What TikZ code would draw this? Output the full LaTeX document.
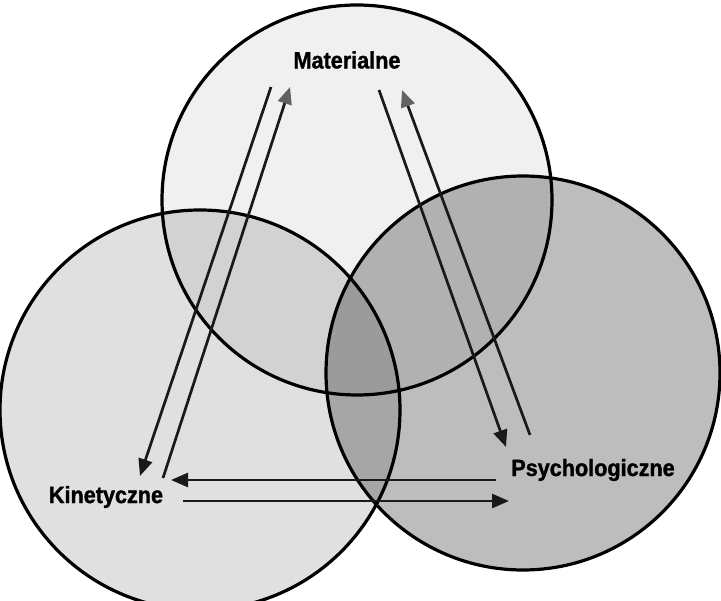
\documentclass[tikz,border=0pt]{standalone}
\usepackage{fontspec}
\setmainfont{Liberation Sans}
\newfontfamily\labelfont[FakeBold=1.4,FakeStretch=0.92]{Liberation Sans Bold}
\usetikzlibrary{arrows.meta}

\begin{document}
\begin{tikzpicture}[x=1pt,y=-1pt,
  ring/.style={draw=black,line width=3.2pt},
  label/.style={font=\labelfont\fontsize{23.5}{27}\selectfont,inner sep=0pt},
  flow/.style={line width=2.7pt,draw=black!90,
    -{Triangle[length=17pt,width=14pt]}},
  backflow/.style={line width=2.7pt,draw=black!90,
    -{Triangle[length=17pt,width=14pt,color=black!62]}}]
  \useasboundingbox (0,0) rectangle (721,601);
  \clip (0,0) rectangle (721,601);

  % shaded sets, multiplied where they overlap
  \begin{scope}[blend group=multiply]
    \fill[black!6]  (357,200) circle[radius=195];
    \fill[black!12] (200,410) circle[radius=200];
    \fill[black!26] (523,373) circle[radius=197];
  \end{scope}

  % outlines
  \draw[ring] (357,200) circle[radius=195];
  \draw[ring] (200,410) circle[radius=200];
  \draw[ring] (523,373) circle[radius=197];

  % set names
  \node[label] (mat) at (347,60) {Materialne};
  \node[label] (kin) at (106,497) {Kinetyczne};
  \node[label] (psy) at (593,470) {Psychologiczne};

  % arrow end points around the names
  \coordinate (matL1) at (271,87);
  \coordinate (matL2) at (290,87);
  \coordinate (matR1) at (379,90);
  \coordinate (matR2) at (402,90);
  \coordinate (kinT1) at (140,476);
  \coordinate (kinT2) at (163,478);
  \coordinate (kinR1) at (171,480);
  \coordinate (kinR2) at (183,501);
  \coordinate (psyT1) at (506,447);
  \coordinate (psyT2) at (530,435);
  \coordinate (psyL1) at (496,480);
  \coordinate (psyL2) at (509,501);

  % flows between the sets
  \draw[flow] (matL1) -- (kinT1);
  \draw[backflow] (kinT2) -- (matL2);
  \draw[flow] (matR1) -- (psyT1);
  \draw[backflow] (psyT2) -- (matR2);
  \draw[flow] (psyL1) -- (kinR1);
  \draw[flow] (kinR2) -- (psyL2);
\end{tikzpicture}
\end{document}
